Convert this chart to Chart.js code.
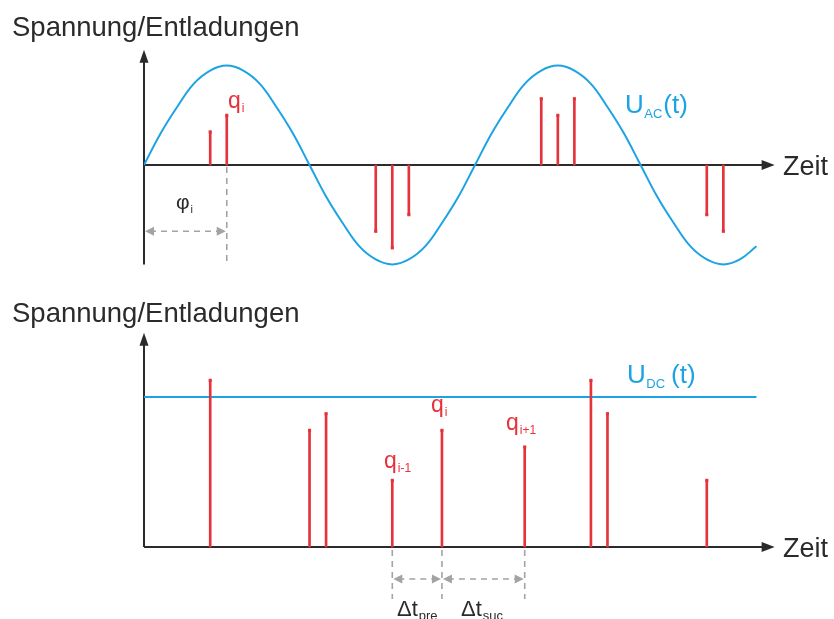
<!DOCTYPE html>
<html>
<head>
<meta charset="utf-8">
<script src="https://cdn.jsdelivr.net/npm/chart.js@4.4.1/dist/chart.umd.min.js"></script>
<style>
  html, body { margin: 0; padding: 0; background: #fff; }
  #wrap { position: relative; width: 834px; height: 619px; overflow: hidden; }
  canvas { position: absolute; left: 0; }
  #acChart { top: 0; }
  #dcChart { top: 300px; }
</style>
</head>
<body>
<div id="wrap">
  <canvas id="acChart" width="834" height="300"></canvas>
  <canvas id="dcChart" width="834" height="319"></canvas>
</div>
<script>
// Zeitachse in Rastereinheiten (eine Periode = 20)
const acTime = [0, 1, 2, 3, 4, 5, 6, 7, 8, 9, 10, 11, 12, 13, 14, 15, 16, 17, 18,
  19, 20, 21, 22, 23, 24, 25, 26, 27, 28, 29, 30, 31, 32, 33, 34, 35, 36, 37];
// Wechselspannung U_AC(t)
const acVoltage = [0, 1.9, 3.5, 4.9, 5.7, 6, 5.7, 4.9, 3.5, 1.9, 0, -1.9, -3.5, -4.9,
  -5.7, -6, -5.7, -4.9, -3.5, -1.9, 0, 1.9, 3.5, 4.9, 5.7, 6, 5.7, 4.9, 3.5, 1.9, 0,
  -1.9, -3.5, -4.9, -5.7, -6, -5.7, -4.9];
// Teilentladungen bei AC
const acPdTime = [4, 5, 14, 15, 16, 24, 25, 26, 34, 35];
const acPdCharge = [2, 3, -4, -5, -3, 4, 3, 4, -3, -4];

// Gleichspannung U_DC(t)
const dcTime = [0, 37];
const dcVoltage = [9, 9];
// Teilentladungen bei DC
const dcPdTime = [4, 10, 11, 15, 18, 23, 27, 28, 34];
const dcPdCharge = [10, 7, 8, 4, 7, 6, 10, 8, 4];

const BLUE = "#1ca3e3";
const RED = "#e5333b";
const DARK = "#2b2b2b";
const GREY = "#a3a3a3";
const FONT = "'Liberation Sans', Arial, sans-serif";

function pts(xs, ys) {
  return xs.map((x, i) => ({ x: x, y: ys[i] }));
}

function arrowHead(ctx, x, y, dir, len, half, color) {
  // dir: "r", "l", "u"
  ctx.save();
  ctx.fillStyle = color;
  ctx.beginPath();
  if (dir === "r") {
    ctx.moveTo(x, y); ctx.lineTo(x - len, y - half); ctx.lineTo(x - len, y + half);
  } else if (dir === "l") {
    ctx.moveTo(x, y); ctx.lineTo(x + len, y - half); ctx.lineTo(x + len, y + half);
  } else {
    ctx.moveTo(x, y); ctx.lineTo(x - half, y + len); ctx.lineTo(x + half, y + len);
  }
  ctx.closePath();
  ctx.fill();
  ctx.restore();
}

function dashed(ctx, x1, y1, x2, y2) {
  ctx.save();
  ctx.strokeStyle = GREY;
  ctx.lineWidth = 1.6;
  ctx.setLineDash([6, 5]);
  ctx.beginPath();
  ctx.moveTo(x1, y1);
  ctx.lineTo(x2, y2);
  ctx.stroke();
  ctx.restore();
}

function dimArrow(ctx, x1, x2, y) {
  dashed(ctx, x1 + 6, y, x2 - 6, y);
  arrowHead(ctx, x1 + 1, y, "l", 9, 4.5, GREY);
  arrowHead(ctx, x2 - 1, y, "r", 9, 4.5, GREY);
}

function subText(ctx, x, y, main, sub, size, color, subGap, subSize, subDrop) {
  ctx.save();
  ctx.fillStyle = color;
  ctx.textBaseline = "alphabetic";
  ctx.font = size + "px " + FONT;
  ctx.fillText(main, x, y);
  const w = ctx.measureText(main).width;
  ctx.font = (subSize || Math.round(size * 0.5)) + "px " + FONT;
  ctx.fillText(sub, x + w + (subGap || 0), y + (subDrop !== undefined ? subDrop : size * 0.18));
  const ws = ctx.measureText(sub).width;
  ctx.restore();
  return x + w + (subGap || 0) + ws;
}

function drawAxes(ctx, chart, yBottom, yTop) {
  const sx = chart.scales.x, sy = chart.scales.y;
  const x0 = sx.getPixelForValue(0);
  const y0 = sy.getPixelForValue(0);
  const xEnd = sx.getPixelForValue(38.1);
  const yb = sy.getPixelForValue(yBottom);
  const yt = sy.getPixelForValue(yTop);
  ctx.save();
  ctx.strokeStyle = DARK;
  ctx.lineWidth = 2;
  ctx.beginPath();
  ctx.moveTo(x0, yb);
  ctx.lineTo(x0, yt + 10);
  ctx.moveTo(x0, y0);
  ctx.lineTo(xEnd - 10, y0);
  ctx.stroke();
  ctx.restore();
  arrowHead(ctx, x0, yt, "u", 13, 4.5, DARK);
  arrowHead(ctx, xEnd, y0, "r", 13, 5, DARK);
  ctx.save();
  ctx.fillStyle = DARK;
  ctx.font = "27px " + FONT;
  ctx.textBaseline = "alphabetic";
  ctx.fillText("Zeit", 783, y0 + 10);
  ctx.restore();
}

function drawTitle(ctx, y) {
  ctx.save();
  ctx.fillStyle = DARK;
  ctx.font = "27.5px " + FONT;
  ctx.textBaseline = "alphabetic";
  ctx.fillText("Spannung/Entladungen", 12, y);
  ctx.restore();
}

const acDecor = {
  id: "acDecor",
  beforeDatasetsDraw(chart) {
    const ctx = chart.ctx;
    drawTitle(ctx, 36);
    drawAxes(ctx, chart, -6, 6.95);
  },
  afterDraw(chart) {
    const ctx = chart.ctx;
    const sx = chart.scales.x, sy = chart.scales.y;
    const x0 = sx.getPixelForValue(0);
    const xq = sx.getPixelForValue(acPdTime[1]);
    // Phasenlage der Entladung q_i
    dashed(ctx, xq, sy.getPixelForValue(0) + 2, xq, sy.getPixelForValue(-6));
    dimArrow(ctx, x0, xq, sy.getPixelForValue(-4));
    subText(ctx, 176, 209, "φ", "i", 21, DARK, 1);
    subText(ctx, 228, 108, "q", "i", 23, RED, 1);
    const end = subText(ctx, 625, 113, "U", "AC", 26, BLUE, 0.5);
    ctx.save();
    ctx.fillStyle = BLUE;
    ctx.font = "26px " + FONT;
    ctx.fillText("(t)", end + 1, 113);
    ctx.restore();
  }
};

const dcDecor = {
  id: "dcDecor",
  beforeDatasetsDraw(chart) {
    const ctx = chart.ctx;
    drawTitle(ctx, 22);
    drawAxes(ctx, chart, 0, 12.85);
  },
  afterDraw(chart) {
    const ctx = chart.ctx;
    const sx = chart.scales.x, sy = chart.scales.y;
    const y0 = sy.getPixelForValue(0);
    const xa = sx.getPixelForValue(dcPdTime[3]);
    const xb = sx.getPixelForValue(dcPdTime[4]);
    const xc = sx.getPixelForValue(dcPdTime[5]);
    [xa, xb, xc].forEach(x => dashed(ctx, x, y0 + 3, x, y0 + 52));
    dimArrow(ctx, xa, xb, y0 + 32);
    dimArrow(ctx, xb, xc, y0 + 32);
    subText(ctx, 384, 168, "q", "i-1", 23, RED, 1);
    subText(ctx, 431, 112, "q", "i", 23, RED, 1);
    subText(ctx, 506, 130, "q", "i+1", 23, RED, 1);
    subText(ctx, 397, 316, "Δt", "pre", 22, DARK, 1, 13, 4);
    subText(ctx, 461, 316, "Δt", "suc", 22, DARK, 1, 13, 4);
    const end = subText(ctx, 627, 83, "U", "DC", 26, BLUE, 0.5);
    ctx.save();
    ctx.fillStyle = BLUE;
    ctx.font = "26px " + FONT;
    ctx.fillText("(t)", end + 6, 83);
    ctx.restore();
  }
};

function stemSets(xs, ys) {
  return [
    {
      type: "bar",
      data: pts(xs, ys),
      backgroundColor: RED,
      barThickness: 2,
      order: 1
    },
    {
      type: "scatter",
      data: pts(xs, ys),
      pointStyle: "rect",
      pointRadius: 2.2,
      pointBackgroundColor: RED,
      pointBorderWidth: 0,
      order: 0
    }
  ];
}

function baseOptions(yMin, yMax, padTop, padBottom) {
  return {
    responsive: false,
    animation: false,
    events: [],
    layout: { padding: { left: 144, right: 61, top: padTop, bottom: padBottom } },
    plugins: { legend: { display: false }, tooltip: { enabled: false } },
    scales: {
      x: { type: "linear", min: 0, max: 38, offset: false, display: false },
      y: { type: "linear", min: yMin, max: yMax, display: false }
    }
  };
}

new Chart(document.getElementById("acChart").getContext("2d"), {
  type: "scatter",
  data: {
    datasets: [
      {
        type: "line",
        label: "U_AC(t)",
        data: pts(acTime, acVoltage),
        borderColor: BLUE,
        borderWidth: 2,
        pointRadius: 0,
        tension: 0.4,
        fill: false,
        order: 2
      }
    ].concat(stemSets(acPdTime, acPdCharge))
  },
  options: baseOptions(-7, 7, 49, 19),
  plugins: [acDecor]
});

new Chart(document.getElementById("dcChart").getContext("2d"), {
  type: "scatter",
  data: {
    datasets: [
      {
        type: "line",
        label: "U_DC(t)",
        data: pts(dcTime, dcVoltage),
        borderColor: BLUE,
        borderWidth: 2,
        pointRadius: 0,
        fill: false,
        order: 2
      }
    ].concat(stemSets(dcPdTime, dcPdCharge))
  },
  options: baseOptions(-3, 12, 47, 22),
  plugins: [dcDecor]
});
</script>
</body>
</html>
